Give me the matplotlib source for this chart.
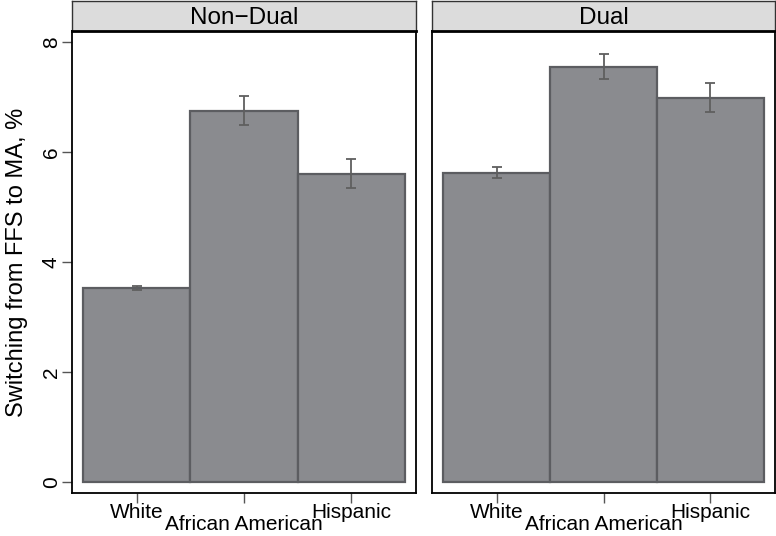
import matplotlib
matplotlib.use("Agg")
import matplotlib.pyplot as plt

plt.rcParams['font.family'] = ['Liberation Sans', 'DejaVu Sans']

groups = ["Non\u2212Dual", "Dual"]
categories = ["White", "African American", "Hispanic"]
# mean switching rate (%) and error bar ends, per group
means = {"Non\u2212Dual": [3.52, 6.75, 5.60], "Dual": [5.62, 7.55, 6.98]}
lower = {"Non\u2212Dual": [3.49, 6.49, 5.35], "Dual": [5.53, 7.33, 6.73]}
upper = {"Non\u2212Dual": [3.57, 7.02, 5.87], "Dual": [5.73, 7.78, 7.25]}

W, H = 776, 536
fig = plt.figure(figsize=(W / 100, H / 100), dpi=100)

bar_col = "#8a8b8f"
edge_col = "#5c5d61"
err_col = "#5f5f5f"

panels = [(72, 416), (432, 775)]
for i, g in enumerate(groups):
    x0, x1 = panels[i]
    ax = fig.add_axes([x0 / W, (H - 493) / H, (x1 - x0) / W, (493 - 31) / H])
    xs = [1, 2, 3]
    ax.bar(xs, means[g], width=1.0, color=bar_col, edgecolor=edge_col, linewidth=1.6, zorder=2)
    yerr = [[m - l for m, l in zip(means[g], lower[g])],
            [u - m for m, u in zip(means[g], upper[g])]]
    ax.errorbar(xs, means[g], yerr=yerr, fmt="none", ecolor=err_col, elinewidth=1.3,
                capsize=3.5, capthick=1.3, zorder=3)
    ax.set_xlim(0.395, 3.605)
    ax.set_ylim(-0.2, 8.2)
    ax.set_xticks(xs)
    # alternate labels: middle one sits a line lower
    ax.set_xticklabels([categories[0], "", categories[2]], fontsize=15)
    ax.annotate(categories[1], xy=(xs[1], 0), xycoords=("data", "axes fraction"),
                xytext=(0, -22), textcoords="offset pixels", ha="center", va="top",
                fontsize=15, annotation_clip=False)
    ax.tick_params(axis="x", length=7, width=1, color="#555555", pad=0)
    if i == 0:
        ax.set_yticks([0, 2, 4, 6, 8])
        ax.set_yticklabels(["0", "2", "4", "6", "8"], fontsize=15, rotation=90, va="center")
        ax.tick_params(axis="y", length=7, width=1, color="#555555", pad=1)
        ax.set_ylabel("Switching from FFS to MA, %", fontsize=17, labelpad=10)
    else:
        ax.set_yticks([])
    for s in ax.spines.values():
        s.set_linewidth(1.3)
        s.set_color("black")

    # strip with panel title
    sax = fig.add_axes([x0 / W, (H - 31) / H, (x1 - x0) / W, 30 / H])
    sax.set_facecolor("#dcdcdc")
    sax.set_xticks([])
    sax.set_yticks([])
    for s in sax.spines.values():
        s.set_linewidth(1.0)
        s.set_color("#333333")
    sax.spines["bottom"].set_linewidth(2.0)
    sax.spines["bottom"].set_color("black")
    sax.text(0.5, 0.45, g, ha="center", va="center", fontsize=17.5, transform=sax.transAxes)

fig.savefig("out.png", dpi=100)
